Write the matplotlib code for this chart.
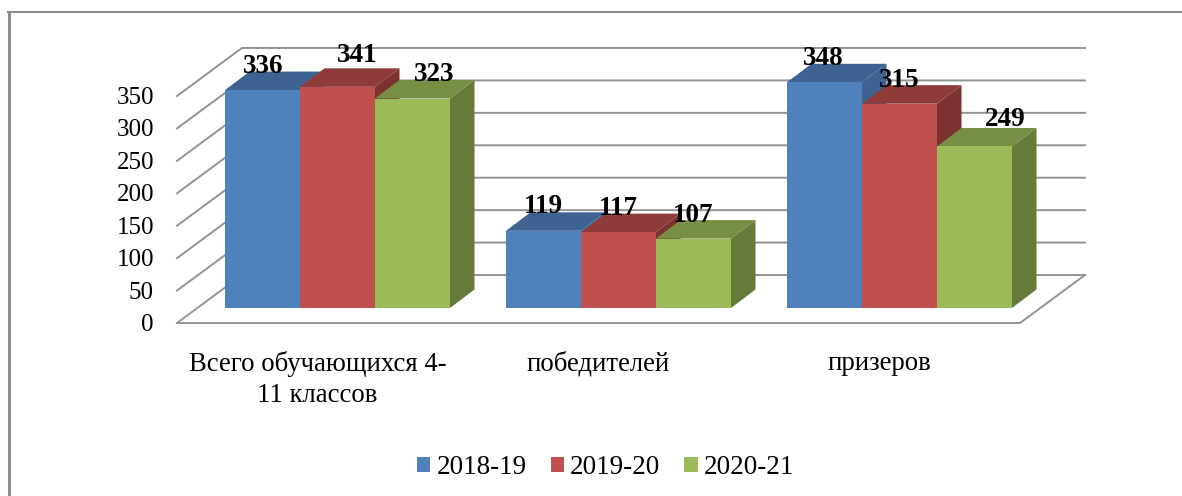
import numpy as np
import matplotlib
matplotlib.use("Agg")
import matplotlib.pyplot as plt
from matplotlib.patches import Polygon

# ===================== data =====================
categories = ["Всего обучающихся 4-\n11 классов", "победителей", "призеров"]
years = ["2018-19", "2019-20", "2020-21"]
values_2018 = [336, 119, 348]
values_2019 = [341, 117, 315]
values_2020 = [323, 107, 249]
y_ticks = [0, 50, 100, 150, 200, 250, 300, 350]

front_colors = ["#4f81bd", "#c0504d", "#9bbb59"]
top_colors = ["#3e6392", "#8f3b39", "#778f45"]
side_colors = ["#3e6392", "#7c3230", "#667a3a"]
grid_color = "#939393"

# ===================== layout (px of the 1182x496 picture) =====================
W, H = 1182, 496
X0, Y0 = 177.0, 323.0      # front left corner of the floor
PX_PER_CAT = 281.0
PX_PER_UNIT = 0.6486

# depth of the floor and of the bars, in data units
floor_dx, floor_dy = 65 / PX_PER_CAT, 48 / PX_PER_UNIT
plane_dx, plane_dy = 20 / PX_PER_CAT, 15 / PX_PER_UNIT
bar_dx, bar_dy = 24.5 / PX_PER_CAT, 18.5 / PX_PER_UNIT
bar_w = 75 / PX_PER_CAT

plt.rcParams["font.family"] = ["Liberation Serif", "DejaVu Serif"]

fig = plt.figure(figsize=(W / 100, H / 100), dpi=100)
ax = fig.add_axes([0, 0, 1, 1])
ax.set_xlim(-0.5 - X0 / PX_PER_CAT, -0.5 + (W - X0) / PX_PER_CAT)
ax.set_ylim((Y0 - H) / PX_PER_UNIT, Y0 / PX_PER_UNIT)
ax.axis("off")

# outer frame: only the left and top sides are inside the picture
fig.add_artist(plt.Line2D([8.5 / W, 8.5 / W], [0, 1 - 12 / H], color="#8c8c8c", lw=2.2,
                          solid_capstyle="butt"))
fig.add_artist(plt.Line2D([7 / W, 1], [1 - 12 / H, 1 - 12 / H], color="#8c8c8c", lw=1.5,
                          solid_capstyle="butt"))

# ===================== walls and floor =====================
left, right = -0.5, 2.5
for t in y_ticks:
    ax.plot([left, left + floor_dx, right + floor_dx],
            [t, t + floor_dy, t + floor_dy], color=grid_color, lw=1.4, zorder=1)
    ax.text(left - 23 / PX_PER_CAT, t - 2 / PX_PER_UNIT, str(t), ha="right",
            va="center", fontsize=18, color="black")
ax.plot([left, right, right + floor_dx], [0, 0, floor_dy], color=grid_color, lw=1.4, zorder=1)

# ===================== bars =====================
series = [values_2018, values_2019, values_2020]
handles = []
z = 2
for g in range(len(categories)):
    for s, vals in enumerate(series):
        x = g - 1.5 * bar_w + s * bar_w + plane_dx
        v = vals[g]
        side = [(x + bar_w, plane_dy), (x + bar_w + bar_dx, plane_dy + bar_dy),
                (x + bar_w + bar_dx, plane_dy + v + bar_dy), (x + bar_w, plane_dy + v)]
        top = [(x, plane_dy + v), (x + bar_dx, plane_dy + v + bar_dy),
               (x + bar_w + bar_dx, plane_dy + v + bar_dy), (x + bar_w, plane_dy + v)]
        ax.add_patch(Polygon(side, closed=True, fc=side_colors[s], ec="none", zorder=z))
        ax.add_patch(Polygon(top, closed=True, fc=top_colors[s], ec="none", zorder=z))
        b = ax.bar(x, v, width=bar_w, bottom=plane_dy, align="edge",
                   color=front_colors[s], zorder=z + 0.5, label=years[s])
        if g == 0:
            handles.append(b[0])
        z += 1

# ===================== value labels, moved by hand in the original =====================
label_shift = [[(0.5, 23.5), (19.5, 31), (21.5, 24)],
               [(0, 24.5), (0, 23.5), (0, 23.5)],
               [(-1.5, 23.5), (-0.5, 23.5), (30.5, 26.5)]]
for g in range(len(categories)):
    for s, vals in enumerate(series):
        cx = g - 1.5 * bar_w + (s + 0.5) * bar_w + plane_dx
        ax.annotate(str(vals[g]), (cx, plane_dy + vals[g]),
                    xytext=(label_shift[g][s][0] * 0.72, label_shift[g][s][1] * 0.72),
                    textcoords="offset points", ha="center", va="center",
                    fontsize=19.5, fontweight="bold", color="black", zorder=50)

# ===================== category labels and legend =====================
for g, name in enumerate(categories):
    ax.text(g, (Y0 - 351) / PX_PER_UNIT, name, ha="center", va="top",
            fontsize=19.3, color="black", linespacing=1.34)

ax.legend(handles, years, ncol=3, loc="center", bbox_to_anchor=(605.5 / W, 1 - 467.5 / H),
          bbox_transform=fig.transFigure, frameon=False, fontsize=19.5,
          handlelength=0.5, handleheight=0.52, handletextpad=0.22,
          columnspacing=0.89, borderpad=0, labelcolor="black")

fig.savefig("out.png", dpi=100)
